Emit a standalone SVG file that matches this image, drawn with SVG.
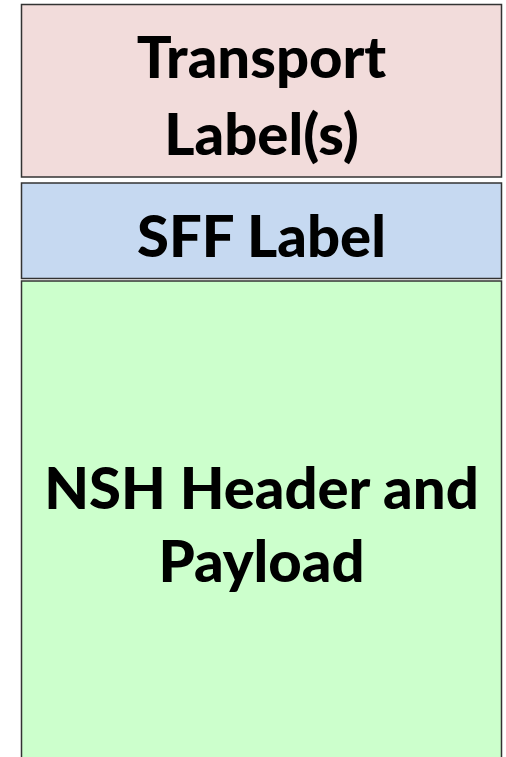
<svg xmlns="http://www.w3.org/2000/svg" width="506" height="757" viewBox="0 0 506 757">
<style>
.box{stroke:#333;stroke-width:1.5}
.t{font-family:Lato,"Liberation Sans",sans-serif;font-weight:900;font-size:58px;fill:#000;text-anchor:middle}
</style>
<rect width="506" height="757" fill="#fff"/>
<g id="transport">
<rect class="box" x="21.5" y="4.5" width="480" height="172.5" fill="#f2dcdb"/>
<text class="t" x="261.5" y="78">Transport</text>
<text class="t" x="261.5" y="155">Label(s)</text>
</g>
<g id="sff">
<rect class="box" x="21.5" y="183" width="480" height="95.5" fill="#c6d9f1"/>
<text class="t" x="261.5" y="257">SFF Label</text>
</g>
<g id="nsh">
<rect class="box" x="21.5" y="281" width="480" height="490" fill="#ccffcc"/>
<text class="t" x="261.5" y="509">NSH Header and</text>
<text class="t" x="261.5" y="582">Payload</text>
</g>
<g id="connectors"/>
</svg>
